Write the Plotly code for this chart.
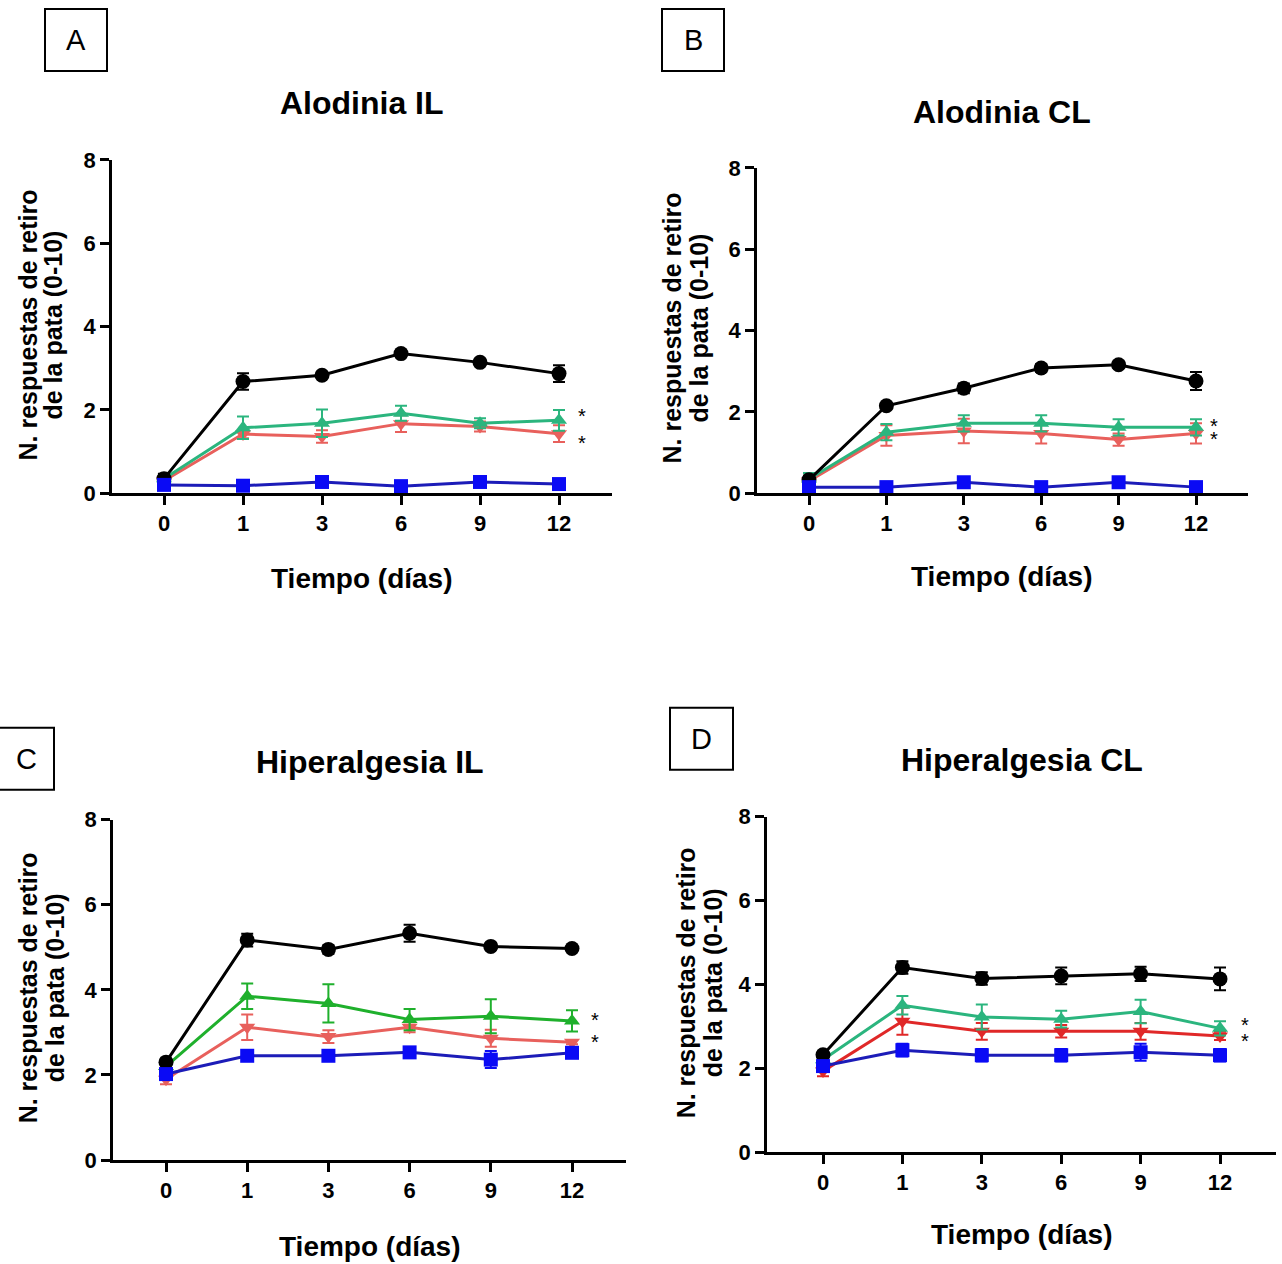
import plotly.graph_objects as go

days = ["0", "1", "3", "6", "9", "12"]

# Panel A - Alodinia IL
A_black = [0.35, 2.68, 2.83, 3.35, 3.14, 2.87]
A_black_err = [0.12, 0.2, 0.07, 0.08, 0.07, 0.2]
A_green = [0.35, 1.57, 1.68, 1.92, 1.68, 1.75]
A_green_err = [0.1, 0.27, 0.33, 0.18, 0.12, 0.25]
A_red = [0.3, 1.42, 1.36, 1.67, 1.6, 1.43]
A_red_err = [0.1, 0.1, 0.15, 0.2, 0.12, 0.2]
A_blue = [0.2, 0.18, 0.27, 0.17, 0.27, 0.22]
A_blue_err = [0.05, 0.05, 0.05, 0.05, 0.05, 0.05]

# Panel B - Alodinia CL
B_black = [0.33, 2.15, 2.58, 3.08, 3.16, 2.76]
B_black_err = [0.1, 0.05, 0.12, 0.1, 0.08, 0.22]
B_green = [0.35, 1.5, 1.72, 1.72, 1.62, 1.62]
B_green_err = [0.15, 0.2, 0.2, 0.2, 0.2, 0.2]
B_red = [0.3, 1.42, 1.53, 1.47, 1.32, 1.47]
B_red_err = [0.1, 0.25, 0.3, 0.25, 0.15, 0.25]
B_blue = [0.15, 0.15, 0.27, 0.15, 0.27, 0.15]
B_blue_err = [0.05, 0.05, 0.05, 0.05, 0.05, 0.05]

# Panel C - Hiperalgesia IL
C_black = [2.3, 5.17, 4.95, 5.33, 5.02, 4.97]
C_black_err = [0.08, 0.15, 0.1, 0.2, 0.08, 0.05]
C_green = [2.2, 3.85, 3.68, 3.3, 3.38, 3.27]
C_green_err = [0.08, 0.3, 0.45, 0.25, 0.4, 0.25]
C_red = [1.9, 3.12, 2.9, 3.12, 2.86, 2.77]
C_red_err = [0.12, 0.3, 0.15, 0.12, 0.2, 0.05]
C_blue = [2.02, 2.45, 2.45, 2.53, 2.36, 2.52]
C_blue_err = [0.08, 0.08, 0.08, 0.08, 0.2, 0.1]

# Panel D - Hiperalgesia CL
D_black = [2.32, 4.4, 4.14, 4.2, 4.25, 4.13]
D_black_err = [0.08, 0.15, 0.15, 0.2, 0.17, 0.27]
D_green = [2.2, 3.5, 3.22, 3.17, 3.35, 2.95]
D_green_err = [0.08, 0.22, 0.3, 0.2, 0.28, 0.17]
D_red = [1.93, 3.12, 2.88, 2.88, 2.88, 2.77]
D_red_err = [0.12, 0.32, 0.2, 0.15, 0.2, 0.1]
D_blue = [2.05, 2.43, 2.31, 2.31, 2.38, 2.31]
D_blue_err = [0.1, 0.15, 0.15, 0.15, 0.2, 0.15]

titles = ["Alodinia IL", "Alodinia CL", "Hiperalgesia IL", "Hiperalgesia CL"]
letters = ["A", "B", "C", "D"]
ytitle_lines = ["N. respuestas de retiro", "de la pata (0-10)"]
xtitle = "Tiempo (días)"
yticks = [0, 2, 4, 6, 8]

W, H = 1282, 1264
FONT = "Liberation Sans, Arial, sans-serif"

def px(x):
    return x / W

def py(y):
    # compensate the vertical offset/scale seen in the rendered page
    yy = (y - 10.9) / 0.982
    return 1 - yy / H

# geometry per panel (pixels)
geo = [
    dict(xl=112, xr=612, y0=493, y8=159, t0=164, dt=79.0),
    dict(xl=757, xr=1248, y0=493, y8=167, t0=809, dt=77.4),
    dict(xl=113, xr=626, y0=1161, y8=820, t0=166, dt=81.2),
    dict(xl=767, xr=1276, y0=1153, y8=817, t0=823, dt=79.4),
]
title_pos = [(362, 102), (1002, 111), (370, 762), (1022, 760)]
xtitle_pos = [(362, 578), (1002, 576), (370, 1248), (1022, 1236)]
ytitle_pos = [((28, 53), 325), ((672, 699), 328), ((28, 55), 989), ((686, 713), 984)]
boxes = [(45, 8, 107, 70), (662, 8, 724, 70), (-2, 728, 54, 790), (670, 708, 733, 770)]
stars = [((582, 411), (582, 438)), ((1214, 421), (1214, 434)),
         ((595, 1016), (595, 1038)), ((1245, 1021), (1245, 1037))]

data = [
    (A_black, A_black_err, A_green, A_green_err, A_red, A_red_err, A_blue, A_blue_err),
    (B_black, B_black_err, B_green, B_green_err, B_red, B_red_err, B_blue, B_blue_err),
    (C_black, C_black_err, C_green, C_green_err, C_red, C_red_err, C_blue, C_blue_err),
    (D_black, D_black_err, D_green, D_green_err, D_red, D_red_err, D_blue, D_blue_err),
]
green_cols = ["#2bb57e", "#2bb57e", "#1fb02c", "#2bb57e"]
red_cols = ["#e8605c", "#e8605c", "#e8605c", "#e02828"]
BLUE_LINE = "#1c1cb8"
BLUE_MK = "#0a0af5"

fig = go.Figure()
layout = dict(
    width=W, height=H, margin=dict(l=0, r=0, t=0, b=0),
    paper_bgcolor="white", plot_bgcolor="white", showlegend=False,
    font=dict(family=FONT, color="black"),
)
annotations = []
shapes = []

idx = list(range(len(days)))

for i in range(4):
    g = geo[i]
    k = "" if i == 0 else str(i + 1)
    xa, ya = "x" + k, "y" + k
    blk, blk_e, grn, grn_e, red, red_e, blu, blu_e = data[i]

    def add(y, e, lc, mc, sym, size):
        fig.add_trace(go.Scatter(
            x=idx, y=y, xaxis=xa, yaxis=ya, mode="lines+markers",
            line=dict(color=lc, width=3),
            marker=dict(color=mc, symbol=sym, size=size, line=dict(width=0)),
            error_y=dict(type="data", array=e, color=mc, thickness=2, width=6),
            cliponaxis=False,
        ))

    add(red, red_e, red_cols[i], red_cols[i], "triangle-down", 14)
    add(grn, grn_e, green_cols[i], green_cols[i], "triangle-up", 14)
    add(blk, blk_e, "black", "black", "circle", 15)
    add(blu, blu_e, BLUE_LINE, BLUE_MK, "square", 14)

    lo = (g["xl"] - g["t0"]) / g["dt"]
    hi = (g["xr"] - g["t0"]) / g["dt"]
    tickfont = dict(size=22, weight="bold", family=FONT, color="black")
    layout["xaxis" + k] = dict(
        domain=[px(g["xl"]), px(g["xr"])], anchor=ya, range=[lo, hi],
        tickmode="array", tickvals=idx, ticktext=days,
        showline=True, linecolor="black", linewidth=2.5,
        ticks="outside", ticklen=9, tickwidth=2.5, tickcolor="black",
        showgrid=False, zeroline=False, tickfont=tickfont,
    )
    layout["yaxis" + k] = dict(
        domain=[py(g["y0"]), py(g["y8"])], anchor=xa, range=[0, 8],
        tickmode="array", tickvals=yticks,
        showline=True, linecolor="black", linewidth=2.5,
        ticks="outside", ticklen=9, tickwidth=2.5, tickcolor="black",
        showgrid=False, zeroline=False, tickfont=tickfont,
    )

    tx, ty = title_pos[i]
    annotations.append(dict(text=titles[i], x=px(tx), y=py(ty), xref="paper", yref="paper",
                            showarrow=False, xanchor="center", yanchor="middle",
                            font=dict(size=32, weight="bold", family=FONT, color="black")))
    tx, ty = xtitle_pos[i]
    annotations.append(dict(text=xtitle, x=px(tx), y=py(ty), xref="paper", yref="paper",
                            showarrow=False, xanchor="center", yanchor="middle",
                            font=dict(size=28, weight="bold", family=FONT, color="black")))
    (lx1, lx2), ty = ytitle_pos[i]
    for line_txt, lx in zip(ytitle_lines, (lx1, lx2)):
        annotations.append(dict(text=line_txt, x=px(lx), y=py(ty), xref="paper", yref="paper",
                                showarrow=False, xanchor="center", yanchor="middle",
                                textangle=-90,
                                font=dict(size=25, weight="bold", family=FONT, color="black")))
    x0, y0, x1, y1 = boxes[i]
    shapes.append(dict(type="rect", xref="paper", yref="paper",
                       x0=px(x0), x1=px(x1), y0=py(y1), y1=py(y0),
                       line=dict(color="black", width=2), fillcolor="white"))
    annotations.append(dict(text=letters[i], x=px((x0 + x1) / 2), y=py((y0 + y1) / 2),
                            xref="paper", yref="paper", showarrow=False,
                            xanchor="center", yanchor="middle",
                            font=dict(size=29, family=FONT, color="black")))
    for sx, sy in stars[i]:
        annotations.append(dict(text="*", x=px(sx), y=py(sy + 5), xref="paper", yref="paper",
                                showarrow=False, xanchor="center", yanchor="middle",
                                font=dict(size=20, family=FONT, color="black")))

layout["annotations"] = annotations
layout["shapes"] = shapes
fig.update_layout(**layout)
fig.write_html("out.html")
